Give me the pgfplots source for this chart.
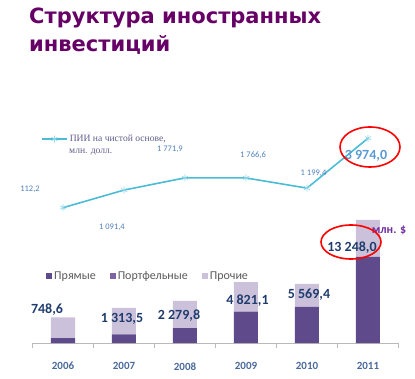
\documentclass[border=0pt]{standalone}
\usepackage{fontspec}
\setmainfont{Carlito}
\newfontfamily\titlefont{DejaVu Sans}
\newfontfamily\serif{Liberation Serif}
\usepackage{pgfplots}
\pgfplotsset{compat=1.18}
\definecolor{ttl}{HTML}{660066}
\definecolor{dark}{HTML}{5F4B8B}
\definecolor{port}{HTML}{8064A2}
\definecolor{light}{HTML}{CCC1DA}
\definecolor{linec}{HTML}{4BBCD6}
\definecolor{linemark}{HTML}{8FD6E8}
\definecolor{navy}{HTML}{1F3C6E}
\definecolor{lbl}{HTML}{4F81BD}
\definecolor{lbl2}{HTML}{5B9BD5}
\definecolor{yr}{HTML}{4A6A9A}
\definecolor{lgd}{HTML}{605C8C}
\definecolor{mln}{HTML}{7030A0}
\begin{document}
\begin{tikzpicture}[x=1pt,y=1pt]
\path[use as bounding box] (0,0) rectangle (415,378);
\node[anchor=base west, font=\titlefont\bfseries\fontsize{21}{24}\selectfont, text=ttl, inner sep=0pt] at (29,354) {Структура иностранных};
\node[anchor=base west, font=\titlefont\bfseries\fontsize{21}{24}\selectfont, text=ttl, inner sep=0pt] at (29,326) {инвестиций};

\begin{axis}[at={(32.5pt,35pt)}, anchor=south west, scale only axis,
  width=366pt, height=130pt, xmin=-0.5, xmax=5.5, ymin=0, ymax=20020,
  ybar stacked, bar width=24pt,
  axis y line=none, axis x line*=bottom,
  x axis line style={-, color=gray!55, line width=0.6pt},
  xtick={0,...,5}, xticklabels={2006,2007,2008,2009,2010,2011},
  major x tick style={draw=none},
  minor xtick={-0.5,0.5,1.5,2.5,3.5,4.5,5.5},
  minor x tick style={gray!55, line width=0.6pt}, minor tick length=5pt, tick align=outside,
  xticklabel style={anchor=center, yshift=-19pt, font=\bfseries\fontsize{11}{13}\selectfont, text=yr},
  clip=false,
  legend columns=3,
  legend style={at={(0.037,0.515)}, anchor=west, draw=none, fill=none, inner sep=0pt,
    font=\fontsize{12}{14}\selectfont, text=black!65,
    /tikz/every odd column/.append style={column sep=0pt},
    /tikz/every even column/.append style={column sep=12pt}},
  legend image code/.code={\fill[#1] (0pt,-3pt) rectangle (6pt,3pt);}
]
\addplot[fill=dark, draw=none] coordinates {(0,748.6) (1,1313.5) (2,2279.8) (3,4821.1) (4,5569.4) (5,13248.0)};
\addplot[fill=port, draw=none] coordinates {(0,0) (1,0) (2,0) (3,0) (4,0) (5,0)};
\addplot[fill=light, draw=none] coordinates {(0,3190) (1,4110) (2,4210) (3,4560) (4,3540) (5,5700)};
\legend{Прямые, Портфельные, Прочие}
\end{axis}

\begin{axis}[at={(32.5pt,168.3pt)}, anchor=south west, scale only axis,
  width=366pt, height=80.9pt, xmin=-0.5, xmax=5.5, ymin=0, ymax=4500,
  hide axis, clip=false,
  legend style={at={(0.015,0.975)}, anchor=north west, draw=none, fill=none,
    font=\serif\fontsize{9.6}{11.5}\selectfont, text=lgd},
  legend image code/.code={\draw[#1, mark repeat=2, mark phase=2] plot coordinates {(0pt,0pt) (12.5pt,0pt) (25pt,0pt)};}
]
\addplot[color=linec, line width=1.6pt, mark=asterisk, mark size=3.5pt, mark options={color=linemark, line width=0.6pt}]
  coordinates {(0,112.2) (1,1091.4) (2,1771.9) (3,1766.6) (4,1199.4) (5,3974.0)};
\addlegendentry{ПИИ на чистой основе,}
\node[font=\fontsize{8.5}{10}\selectfont, text=lbl] at (axis cs:-0.541,1151) {112,2};
\node[font=\fontsize{8.5}{10}\selectfont, text=lbl] at (axis cs:0.803,-962) {1 091,4};
\node[font=\fontsize{8.5}{10}\selectfont, text=lbl] at (axis cs:1.754,3380) {1 771,9};
\node[font=\fontsize{8.5}{10}\selectfont, text=lbl] at (axis cs:3.115,3043) {1 766,6};
\node[font=\fontsize{8.5}{10}\selectfont, text=lbl] at (axis cs:4.107,2041) {1 199,4};
\node[font=\bfseries\fontsize{14}{16}\selectfont, text=lbl2] at (axis cs:4.967,2987) {3 974,0};
\end{axis}
\node[anchor=west, inner sep=0pt, font=\serif\fontsize{9.6}{11.5}\selectfont, text=lgd] at (69,225.5) {млн. долл.};

\begin{scope}[every node/.style={font=\bfseries\fontsize{14}{16}\selectfont, text=navy}]
\node at (47,68) {748,6};
\node at (122,59) {1 313,5};
\node at (179,62) {2 279,8};
\node at (247.5,77) {4 821,1};
\node at (309,83) {5 569,4};
\node at (352,130) {13 248,0};
\end{scope}
\node[font=\bfseries\fontsize{12}{14}\selectfont, text=mln] at (389,148) {млн. \$};
\draw[red, line width=1.6pt] (370,231) ellipse (30pt and 20pt);
\draw[red, line width=1.6pt] (351,136) ellipse (30pt and 17pt);
\end{tikzpicture}
\end{document}
